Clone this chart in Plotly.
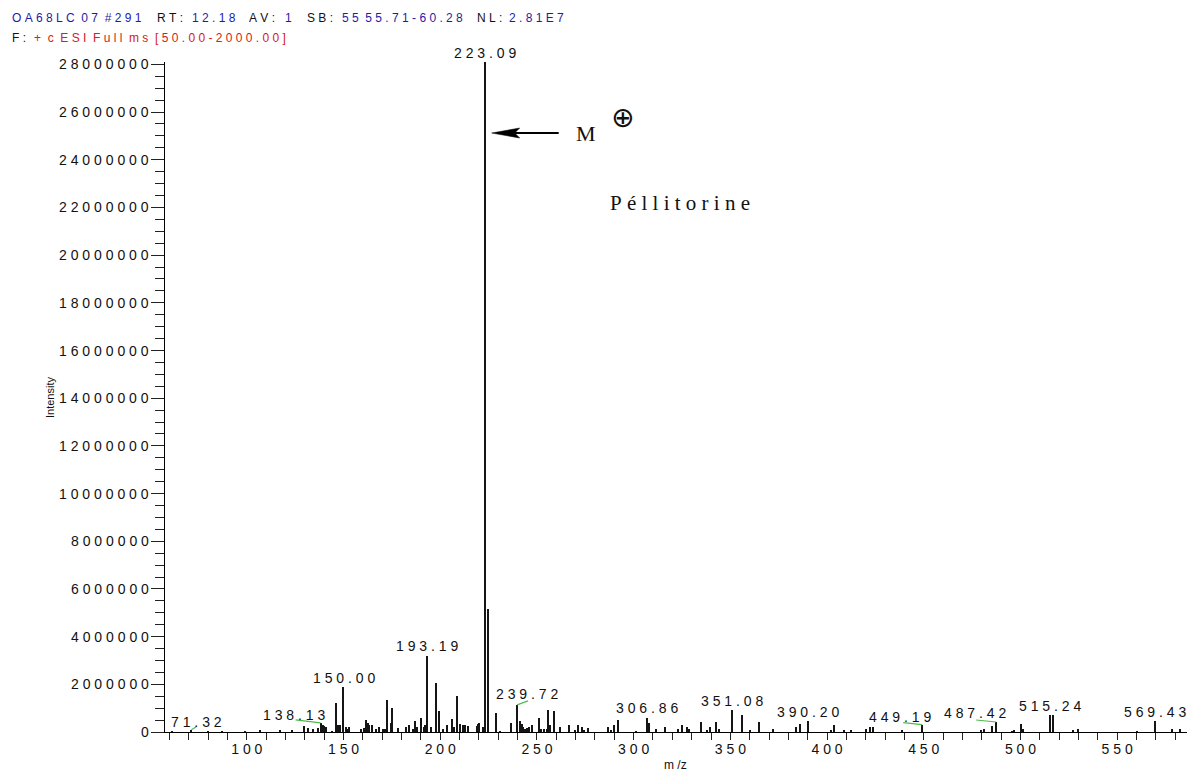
import plotly.graph_objects as go

# ---- spectrum data (m/z, intensity in counts) ----
peak_mz = [
    61.2, 71.32, 80.1, 87.4, 99.1, 106.9, 117.2, 123.3, 129.8, 131.8,
    134.4, 136.7, 138.13, 139.3, 140.1, 140.8, 143.9, 146.2, 147.4, 148.2,
    150.00, 151.2, 152.0, 153.0, 158.9, 160.6, 161.7, 162.6, 163.4, 164.6,
    166.8, 168.5, 170.6, 171.6, 172.4, 174.4, 175.3, 178.4, 182.4, 184.1,
    186.1, 187.2, 188.2, 190.0, 191.5, 192.3, 193.19, 195.5, 197.9, 199.6,
    201.6, 203.7, 206.3, 207.2, 208.6, 210.3, 212.0, 212.9, 214.2, 218.9,
    219.7, 220.3, 222.0, 223.09, 224.7, 228.8, 230.9, 236.5, 239.72, 241.3,
    242.2, 243.0, 243.9, 244.7, 245.7, 247.3, 251.1, 252.1, 253.8, 255.1,
    255.9, 256.8, 259.0, 262.0, 266.7, 269.7, 271.5, 273.5, 274.5, 276.4,
    286.9, 288.3, 290.0, 291.8, 301.0, 306.86, 308.2, 311.4, 316.2, 322.8,
    324.9, 327.8, 328.6, 334.9, 337.8, 339.5, 342.5, 344.3, 351.08, 356.0,
    360.2, 364.7, 372.3, 384.1, 386.0, 390.20, 402.1, 403.8, 408.9, 412.4,
    420.0, 422.2, 423.9, 438.6, 449.19, 479.4, 481.3, 485.1, 487.42, 495.5,
    496.7, 500.3, 501.2, 515.24, 517.0, 527.3, 529.9, 560.4, 569.43, 578.2,
    582.5,
]
peak_intensity = [
    40000, 90000, 30000, 30000, 30000, 80000, 80000, 80000, 270000, 170000,
    140000, 170000, 380000, 310000, 250000, 200000, 40000, 1220000, 280000, 310000,
    1880000, 200000, 140000, 200000, 140000, 170000, 500000, 380000, 310000, 310000,
    110000, 230000, 110000, 110000, 1330000, 380000, 990000, 170000, 210000, 310000,
    110000, 450000, 210000, 590000, 210000, 310000, 3200000, 200000, 2050000, 870000,
    110000, 310000, 530000, 210000, 1490000, 350000, 310000, 280000, 250000, 250000,
    350000, 390000, 210000, 28100000, 5140000, 790000, 40000, 390000, 1140000, 450000,
    330000, 230000, 130000, 160000, 200000, 310000, 590000, 140000, 140000, 120000,
    940000, 310000, 870000, 210000, 310000, 70000, 310000, 210000, 70000, 150000,
    210000, 70000, 280000, 490000, 40000, 590000, 390000, 140000, 210000, 110000,
    310000, 210000, 110000, 440000, 70000, 190000, 440000, 140000, 920000, 710000,
    50000, 440000, 110000, 230000, 350000, 450000, 50000, 310000, 50000, 50000,
    110000, 210000, 210000, 50000, 310000, 50000, 140000, 240000, 420000, 40000,
    60000, 350000, 110000, 700000, 700000, 50000, 110000, 40000, 450000, 110000,
    110000,
]

# peaks that carry an m/z label
labelled_mz = [71.32, 138.13, 150.00, 193.19, 223.09, 239.72, 306.86,
               351.08, 390.20, 449.19, 487.42, 515.24, 569.43]

# axis ticks
y_ticks = list(range(0, 28000001, 2000000))
x_ticks = [100, 150, 200, 250, 300, 350, 400, 450, 500, 550]

# scan header fields: (text, colour key)
header_line1 = [("OA68LC 07 #291", "b"), ("RT:", "k"), ("12.18", "b"), ("AV:", "k"),
                ("1", "b"), ("SB:", "k"), ("55 55.71-60.28", "b"), ("NL:", "k"),
                ("2.81E7", "b")]
header_line2 = [("F:", "k"), ("+ c ESI Full ms [50.00-2000.00]", "r")]

# left edges (px) of the header fields
header_x1 = [10, 155, 190, 247, 283, 305, 340, 475, 507]
header_x2 = [10, 32]

# label placement (pixel offsets from the peak top) and leader lines
label_shift = {
    71.32: (5, 8), 138.13: (-27, 8), 239.72: (10, 11), 449.19: (-22, 8),
    487.42: (-21, 9),
}
leader = {
    71.32: (5, 3), 138.13: (-25, 3), 239.72: (11, 4), 449.19: (-19, 2),
    487.42: (-20, 2),
}

SANS = "Liberation Sans"
SERIF = "Liberation Serif"
COLORS = {"b": "#1c1ca8", "r": "#d42020", "k": "#111111"}
INK = "#111111"
NB = "\u00a0"


def spaced(s):
    """Letter-spaced text: a no-break space between characters, two between words."""
    return (NB * 2).join(NB.join(word) for word in s.split(" "))


fig = go.Figure()
fig.add_trace(go.Bar(
    x=peak_mz, y=peak_intensity, width=0.55,
    marker=dict(color="#151515", line=dict(width=0)),
    hoverinfo="x+y", showlegend=False,
))

L, T, W, H = 165, 62, 1022, 670


def px(xp):
    return (xp - L) / W


def py(yp):
    return (T + H - yp) / H


annotations = []
shapes = []

# peak labels
for mz in labelled_mz:
    inten = peak_intensity[peak_mz.index(mz)]
    dx, dy = label_shift.get(mz, (0, 9.5))
    annotations.append(dict(
        x=mz, y=inten, xref="x", yref="y", text=spaced(f"{mz:.2f}"),
        showarrow=False, xanchor="center", yanchor="middle",
        xshift=dx, yshift=dy, font=dict(family=SANS, size=14, color=INK),
    ))
    if mz in leader:
        lx, ly = leader[mz]
        shapes.append(dict(
            type="line", xref="x", yref="y", xsizemode="pixel", ysizemode="pixel",
            xanchor=mz, yanchor=inten, x0=0, y0=0, x1=lx, y1=ly,
            line=dict(color="#4cbb4c", width=1.2),
        ))

# letter-spaced intensity tick labels
for v in y_ticks:
    annotations.append(dict(
        x=px(151), y=v, xref="paper", yref="y", text=spaced(str(v)),
        showarrow=False, xanchor="right", yanchor="middle",
        font=dict(family=SANS, size=14, color=INK),
    ))

# scan header
for fields, xs, yp in ((header_line1, header_x1, 18), (header_line2, header_x2, 38)):
    for (txt, ck), xp in zip(fields, xs):
        annotations.append(dict(
            x=px(xp), y=py(yp), xref="paper", yref="paper", text=spaced(txt),
            showarrow=False, xanchor="left", yanchor="middle",
            font=dict(family=SANS, size=12, color=COLORS[ck]),
        ))

annotations += [
    dict(x=px(50), y=py(398), xref="paper", yref="paper", text="Intensity", textangle=-90,
         showarrow=False, xanchor="center", yanchor="middle",
         font=dict(family=SANS, size=11, color=INK)),
    dict(x=px(675), y=py(765), xref="paper", yref="paper", text="m" + NB + "/z",
         showarrow=False, xanchor="center", yanchor="middle",
         font=dict(family=SANS, size=12, color=INK)),
    dict(x=px(586), y=py(133), xref="paper", yref="paper", text="M", showarrow=False,
         xanchor="center", yanchor="middle", font=dict(family=SERIF, size=22, color=INK)),
    dict(x=px(622), y=py(118), xref="paper", yref="paper", text="\u2295", showarrow=False,
         xanchor="center", yanchor="middle", font=dict(family="DejaVu Sans", size=28, color=INK)),
    dict(x=px(680), y=py(203), xref="paper", yref="paper", text=NB.join("Péllitorine"),
         showarrow=False, xanchor="center", yanchor="middle",
         font=dict(family=SERIF, size=21, color=INK)),
]

# arrow pointing at the molecular ion
tip_x, tip_y = px(491.7), py(133)
shapes += [
    dict(type="line", xref="paper", yref="paper", xsizemode="pixel", ysizemode="pixel",
         xanchor=tip_x, yanchor=tip_y, x0=20, y0=0, x1=67, y1=0,
         line=dict(color="#000000", width=2)),
    dict(type="path", xref="paper", yref="paper", xsizemode="pixel", ysizemode="pixel",
         xanchor=tip_x, yanchor=tip_y, path="M0,0 L28,5 L23,0 L28,-5 Z",
         fillcolor="#000000", line=dict(color="#000000", width=0.5)),
]

fig.update_layout(
    width=1187, height=772,
    margin=dict(l=L, r=0, t=T, b=772 - T - H),
    paper_bgcolor="white", plot_bgcolor="white",
    showlegend=False, bargap=0,
    annotations=annotations, shapes=shapes,
    xaxis=dict(
        range=[57.7, 586.1], showgrid=False, zeroline=False,
        showline=True, linecolor="#000000", linewidth=1,
        tickmode="array", tickvals=x_ticks, ticktext=[spaced(str(v)) for v in x_ticks],
        ticks="outside", ticklen=7, tickcolor="#222222", tickwidth=1,
        ticklabelstandoff=-3,
        tickfont=dict(family=SANS, size=14, color=INK),
        minor=dict(dtick=10, tick0=0, ticks="outside", ticklen=7,
                   tickcolor="#222222", showgrid=False),
    ),
    yaxis=dict(
        range=[0, 28100000], showgrid=False, zeroline=False,
        showline=True, linecolor="#000000", linewidth=1,
        tickmode="array", tickvals=y_ticks, showticklabels=False,
        ticks="outside", ticklen=13, tickcolor="#222222", tickwidth=1,
        minor=dict(dtick=500000, tick0=0, ticks="outside", ticklen=9,
                   tickcolor="#222222", showgrid=False),
    ),
)

fig.write_html("out.html")
